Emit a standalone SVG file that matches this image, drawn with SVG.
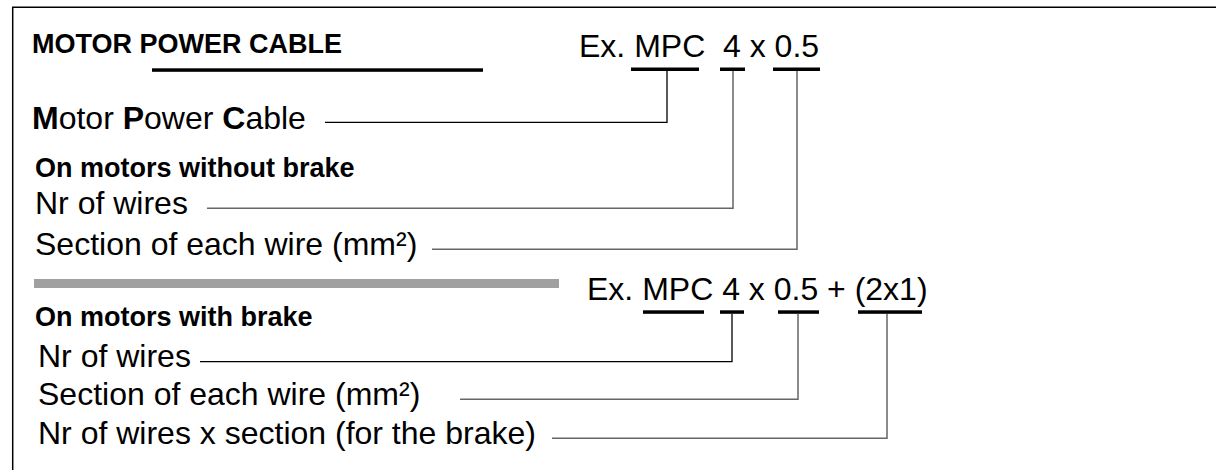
<svg xmlns="http://www.w3.org/2000/svg" width="1216" height="470" viewBox="0 0 1216 470">
<style>
text{font-family:"Liberation Sans",Arial,sans-serif;fill:#000;white-space:pre}
.r{font-size:32px}
.b{font-size:27px;font-weight:bold}
.bar{fill:#000}
.c{fill:none;stroke:#000;stroke-width:1.3}
.g{fill:none;stroke:#666;stroke-width:1.5}
</style>
<rect x="0" y="0" width="1216" height="470" fill="#fff"/>
<path d="M12.7,470 V7.3 H1216" fill="none" stroke="#000" stroke-width="1.5"/>
<g id="title">
<text class="b" x="32" y="53">MOTOR POWER CABLE</text>
<rect class="bar" x="152" y="68.3" width="331" height="3.5"/>
</g>
<g id="example1">
<text class="r" x="579" y="57" xml:space="preserve">Ex. MPC  4 x 0.5</text>
<rect class="bar" x="631" y="67.5" width="68" height="3.5"/>
<rect class="bar" x="720" y="67.5" width="25" height="3.5"/>
<rect class="bar" x="773" y="67.5" width="47" height="3.5"/>
</g>
<g id="label-mpc">
<text class="r" x="32" y="129"><tspan font-weight="bold">M</tspan>otor <tspan font-weight="bold">P</tspan>ower <tspan font-weight="bold">C</tspan>able</text>
</g>
<g id="heading-nobrake">
<text class="b" x="35" y="177">On motors without brake</text>
</g>
<g id="label-wires1">
<text class="r" x="35" y="214">Nr of wires</text>
</g>
<g id="label-section1">
<text class="r" x="35" y="255">Section of each wire (mm²)</text>
</g>
<rect id="separator" x="34" y="279" width="525" height="9" fill="#a0a0a0"/>
<g id="example2">
<text class="r" x="587" y="300">Ex. MPC 4 x 0.5 + (2x1)</text>
<rect class="bar" x="643" y="310.3" width="61" height="3.5"/>
<rect class="bar" x="720" y="310.3" width="24" height="3.5"/>
<rect class="bar" x="778" y="310.3" width="41" height="3.5"/>
<rect class="bar" x="858" y="310.3" width="64" height="3.5"/>
</g>
<g id="heading-brake">
<text class="b" x="35" y="326">On motors with brake</text>
</g>
<g id="label-wires2">
<text class="r" x="38" y="367">Nr of wires</text>
</g>
<g id="label-section2">
<text class="r" x="38" y="405">Section of each wire (mm²)</text>
</g>
<g id="label-brake">
<text class="r" x="38" y="444">Nr of wires x section (for the brake)</text>
</g>
<g id="connectors">
<path class="c" d="M325,122.3 H667 V71"/>
<path class="g" d="M207,208.3 H733 V71"/>
<path class="g" d="M432,249.3 H797 V71"/>
<path class="c" d="M200,361.7 H732 V314"/>
<path class="g" d="M460,399.3 H798 V314"/>
<path class="g" d="M552,438.3 H887 V314"/>
</g>
</svg>
